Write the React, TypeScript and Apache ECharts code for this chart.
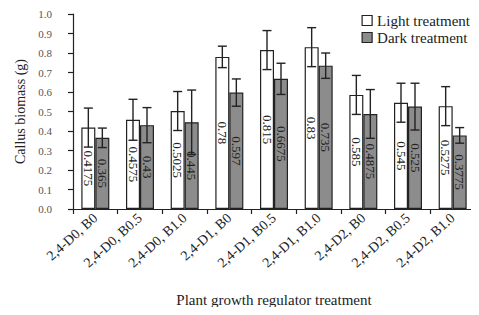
import React, { useEffect, useRef } from "react";
import * as echarts from "echarts";

const categories = [
  "2,4-D0, B0",
  "2,4-D0, B0.5",
  "2,4-D0, B1.0",
  "2,4-D1, B0",
  "2,4-D1, B0.5",
  "2,4-D1, B1.0",
  "2,4-D2, B0",
  "2,4-D2, B0.5",
  "2,4-D2, B1.0",
];
const lightValues = [0.4175, 0.4575, 0.5025, 0.78, 0.815, 0.83, 0.585, 0.545, 0.5275];
const darkValues = [0.365, 0.43, 0.445, 0.597, 0.6675, 0.735, 0.4875, 0.525, 0.3775];
const lightErr = [0.1, 0.105, 0.1, 0.055, 0.1, 0.1, 0.1, 0.1, 0.1];
const darkErr = [0.05, 0.09, 0.165, 0.07, 0.08, 0.065, 0.125, 0.12, 0.04];
const yTicks = [0, 0.1, 0.2, 0.3, 0.4, 0.5, 0.6, 0.7, 0.8, 0.9, 1.0];

const FONT = "Liberation Serif";
const BAR_W = 14;

function errData(vals: number[], errs: number[]) {
  return vals.map((v, i) => [i, v - errs[i], v + errs[i]]);
}

function makeErrRender(offset: number) {
  return (params: any, api: any) => {
    const i = api.value(0);
    const lo = api.coord([i, api.value(1)]);
    const hi = api.coord([i, api.value(2)]);
    const x = lo[0] + offset;
    const cap = 4.5;
    const style = { stroke: "#222", lineWidth: 1.4 };
    return {
      type: "group",
      children: [
        { type: "line", shape: { x1: x, y1: hi[1], x2: x, y2: lo[1] }, style },
        { type: "line", shape: { x1: x - cap, y1: hi[1], x2: x + cap, y2: hi[1] }, style },
        { type: "line", shape: { x1: x - cap, y1: lo[1], x2: x + cap, y2: lo[1] }, style },
      ],
    };
  };
}

export default function App() {
  const ref = useRef<HTMLDivElement>(null);
  useEffect(() => {
    if (!ref.current) return;
    const chart = echarts.init(ref.current, undefined, { renderer: "svg" });
    const labelCfg = {
      show: true,
      position: "inside",
      rotate: -90,
      fontFamily: FONT,
      fontSize: 13,
      color: "#222",
      formatter: (p: any) => String(p.value),
    };
    chart.setOption({
      animation: false,
      backgroundColor: "#fff",
      textStyle: { fontFamily: FONT },
      grid: { left: 73, right: 4, top: 14, bottom: 106, containLabel: false },
      legend: {
        orient: "vertical",
        right: 4,
        top: 8,
        itemWidth: 10,
        itemHeight: 10,
        itemGap: 2,
        textStyle: { fontFamily: FONT, fontSize: 15, color: "#222" },
        data: [
          { name: "Light treatment", icon: "rect", itemStyle: { color: "#fff", borderColor: "#222", borderWidth: 1.2 } },
          { name: "Dark treatment", icon: "rect", itemStyle: { color: "#8c8c8c", borderColor: "#222", borderWidth: 1.2 } },
        ],
      },
      xAxis: {
        type: "category",
        data: categories,
        name: "Plant growth regulator treatment",
        nameLocation: "middle",
        nameGap: 83,
        nameTextStyle: { fontFamily: FONT, fontSize: 15, color: "#222" },
        axisLine: { lineStyle: { color: "#222", width: 1.2 } },
        axisTick: { show: true, length: 5, lineStyle: { color: "#222", width: 1.2 } },
        axisLabel: { rotate: 42, fontFamily: FONT, fontSize: 14, color: "#222", margin: 7, interval: 0 },
      },
      yAxis: {
        type: "value",
        min: 0,
        max: 1,
        interval: 0.1,
        name: "Callus biomass (g)",
        nameLocation: "middle",
        nameGap: 46,
        nameTextStyle: { fontFamily: FONT, fontSize: 14, color: "#222" },
        axisLine: { show: true, lineStyle: { color: "#222", width: 1.2 } },
        axisTick: { show: true, length: 5, lineStyle: { color: "#222", width: 1.2 } },
        splitLine: { show: false },
        axisLabel: {
          fontFamily: FONT,
          fontSize: 11,
          color: "#555",
          margin: 21,
          formatter: (v: number) => {
            const t = yTicks.find((y) => Math.abs(y - v) < 1e-6);
            return (t !== undefined ? t : v).toFixed(1);
          },
        },
      },
      series: [
        {
          name: "Light treatment",
          type: "bar",
          data: lightValues,
          barWidth: BAR_W,
          barGap: "0%",
          itemStyle: { color: "#fff", borderColor: "#222", borderWidth: 1.2 },
          label: labelCfg,
        },
        {
          name: "Dark treatment",
          type: "bar",
          data: darkValues,
          barWidth: BAR_W,
          barGap: "0%",
          itemStyle: { color: "#8c8c8c", borderColor: "#222", borderWidth: 1.2 },
          label: labelCfg,
        },
        {
          type: "custom",
          data: errData(lightValues, lightErr),
          renderItem: makeErrRender(-BAR_W / 2),
          z: 10,
          silent: true,
        },
        {
          type: "custom",
          data: errData(darkValues, darkErr),
          renderItem: makeErrRender(BAR_W / 2),
          z: 10,
          silent: true,
        },
      ],
    });
    return () => chart.dispose();
  }, []);
  return <div ref={ref} style={{ width: 479, height: 315, margin: -8 }} />;
}
